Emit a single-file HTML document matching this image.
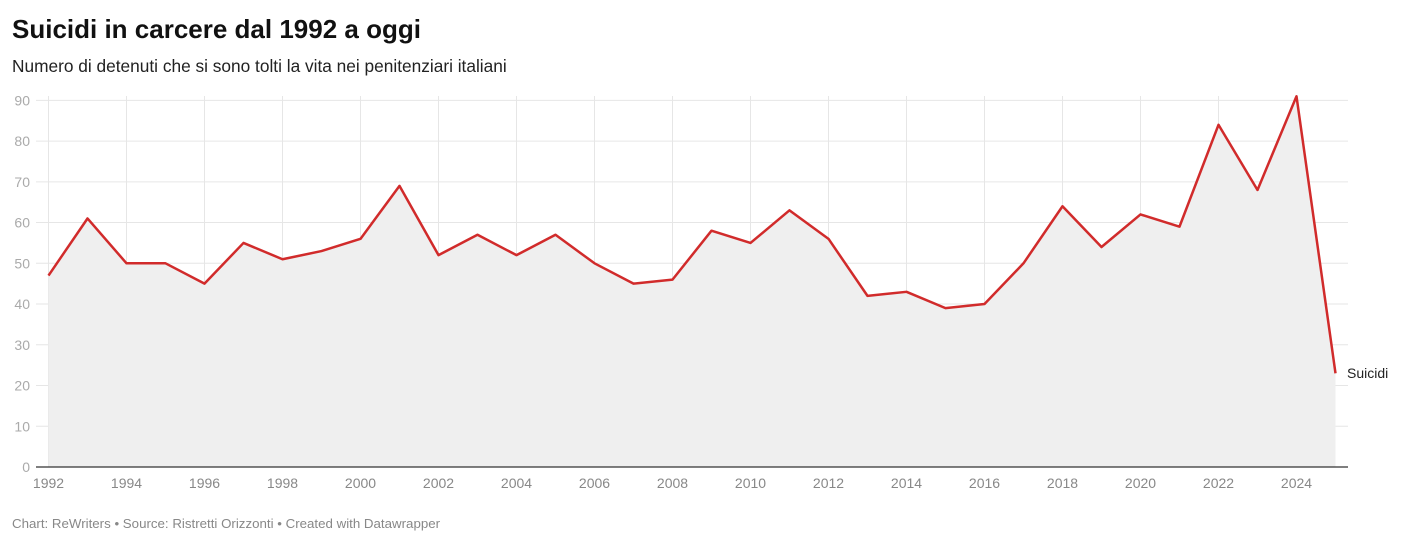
<!DOCTYPE html>
<html><head><meta charset="utf-8"><style>
body{margin:0;background:#fff;width:1404px;height:545px;overflow:hidden;font-family:"Liberation Sans",sans-serif}
</style></head><body>
<svg width="1404" height="545" xmlns="http://www.w3.org/2000/svg" font-family="Liberation Sans, sans-serif">
<text x="12" y="38" font-size="26" font-weight="bold" fill="#111">Suicidi in carcere dal 1992 a oggi</text>
<text x="12" y="72" font-size="17.3" fill="#222">Numero di detenuti che si sono tolti la vita nei penitenziari italiani</text>
<g id="g"></g>
<text x="12" y="528" font-size="13.3" fill="#888">Chart: ReWriters • Source: Ristretti Orizzonti • Created with Datawrapper</text>
</svg>
<script>
const d=[47,61,50,50,45,55,51,53,56,69,52,57,52,57,50,45,46,58,55,63,56,42,43,39,40,50,64,54,62,59,84,68,91,23];
const X=i=>48.5+i*39.0, Y=v=>467-v*4.074;
let s='';
for(let v=10;v<=90;v+=10){s+=`<line x1="36" x2="1348" y1="${Y(v)}" y2="${Y(v)}" stroke="#e6e6e6"/>`;}
for(let v=0;v<=90;v+=10){s+=`<text x="30" y="${Y(v)+5}" font-size="14" fill="#aaa" text-anchor="end">${v}</text>`;}
for(let i=0;i<=32;i+=2){s+=`<line x1="${X(i)}" x2="${X(i)}" y1="96" y2="467" stroke="#e6e6e6"/>`;
s+=`<text x="${X(i)}" y="488" font-size="14" fill="#888" text-anchor="middle">${1992+i}</text>`;}
let p=d.map((v,i)=>`${X(i)},${Y(v)}`).join(' ');
s+=`<polygon points="${X(0)},467 ${p} ${X(33)},467" fill="#efefef"/>`;
s+=`<polyline points="${p}" fill="none" stroke="#d12b2b" stroke-width="2.5" stroke-linejoin="round"/>`;
s+=`<line x1="36" x2="1348" y1="467" y2="467" stroke="#333" stroke-width="1.2"/>`;
s+=`<text x="1347" y="378" font-size="14" fill="#222">Suicidi</text>`;
document.getElementById('g').innerHTML=s;
</script>
</body></html>
